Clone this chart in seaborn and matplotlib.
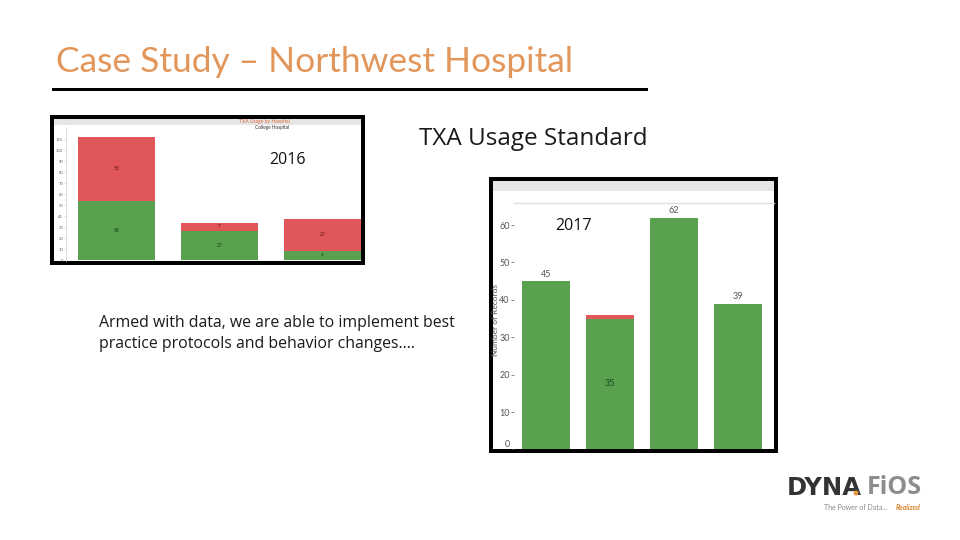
import matplotlib
matplotlib.use("Agg")
import seaborn as sns
from matplotlib import pyplot as plt
from matplotlib.patches import Rectangle, Ellipse

# values
cats_2016 = ["A", "B", "C"]
green_2016 = [54, 27, 9]
red_2016 = [58, 7, 29]
ticks_2016 = list(range(0, 111, 10))

cats_2017 = ["A", "B", "C", "D"]
green_2017 = [45, 35, 62, 39]
red_2017 = [0, 1, 0, 0]
ticks_2017 = list(range(0, 61, 10))

RED = "#E15759"
GREEN = "#59A14F"
ORANGE = "#E3965A"
W, H = 960, 540

sns.set_theme(style="white")
plt.rcParams["font.family"] = ["Lato", "DejaVu Sans"]

fig = plt.figure(figsize=(9.6, 5.4), dpi=100, facecolor="white")


def box(x0, y0, x1, y1):
    return [x0 / W, 1 - y1 / H, (x1 - x0) / W, (y1 - y0) / H]


def rect(x0, y0, x1, y1, color, z=0):
    fig.add_artist(Rectangle((x0 / W, 1 - y1 / H), (x1 - x0) / W, (y1 - y0) / H,
                             transform=fig.transFigure, facecolor=color, edgecolor="none", zorder=z))


def label(x, y, s, **kw):
    kw.setdefault("ha", "center")
    kw.setdefault("va", "center")
    kw.setdefault("zorder", 5)
    return fig.text(x / W, 1 - y / H, s, **kw)


def stacked(ax, cats, green, red):
    total = [g + r for g, r in zip(green, red)]
    sns.barplot(x=cats, y=total, color=RED, saturation=1, width=0.75, linewidth=0, ax=ax)
    sns.barplot(x=cats, y=green, color=GREEN, saturation=1, width=0.75, linewidth=0, ax=ax)
    ax.set_xticks([])
    ax.set_xlabel("")


# header
label(56, 62, "Case Study – Northwest Hospital", ha="left", fontsize=25.5, color=ORANGE)
rect(52, 87.5, 648, 90.5, "black")
label(533.5, 139, "TXA Usage Standard", fontsize=17.5, color="#1a1a1a", family="Open Sans")

# 2016 chart
rect(50, 115, 365, 265, "black", 1)
rect(54, 119, 361, 261, "white", 1)
rect(54, 119, 361, 125, "#e6e6e6", 1)
ax1 = fig.add_axes(box(66, 127, 361, 261), zorder=2)
ax1.patch.set_alpha(0)
stacked(ax1, cats_2016, green_2016, red_2016)
ax1.set_xlim(-0.49, 2.374)
ax1.set_ylim(-0.5, 121)
ax1.set_yticks(ticks_2016)
ax1.tick_params(axis="y", labelsize=3, colors="#666666", length=1, width=0.4, pad=1, left=True)
sns.despine(ax=ax1, bottom=True, right=True, top=True)
ax1.spines["left"].set_color("#dddddd")
ax1.spines["left"].set_linewidth(0.6)
for i, (g, r) in enumerate(zip(green_2016, red_2016)):
    ax1.text(i, g / 2, str(g), ha="center", va="center", fontsize=3.5, color="#123d12")
    ax1.text(i, g + r / 2, str(r), ha="center", va="center", fontsize=3.5, color="#6b1416")
label(264, 121, "TXA Usage by Hospital", fontsize=3.6, color="#d9663a")
label(272, 128, "College Hospital", fontsize=3.4, color="#333333")
label(288, 160, "2016", fontsize=11.5, color="#111111", family="Open Sans")

# 2017 chart
rect(489, 177, 778, 453, "black", 1)
rect(493, 181, 774, 449, "white", 1)
rect(493, 181, 774, 191, "#e6e6e6", 1)
ax2 = fig.add_axes(box(514, 203, 774, 449.4), zorder=2)
ax2.patch.set_alpha(0)
stacked(ax2, cats_2017, green_2017, red_2017)
ax2.set_xlim(-0.5, 3.57)
ax2.set_ylim(0, 65.9)
ax2.set_yticks(ticks_2017)
ax2.tick_params(axis="y", labelsize=6.5, colors="#555555", length=2, width=0.5, pad=1, left=True)
ax2.get_yticklabels()[0].set_verticalalignment("bottom")
sns.despine(ax=ax2, left=True, bottom=True, right=True, top=False)
ax2.spines["top"].set_color("#dddddd")
ax2.spines["top"].set_linewidth(1)
for i, g in enumerate(green_2017):
    if red_2017[i] == 0:
        ax2.text(i, g + 0.6, str(g), ha="center", va="bottom", fontsize=6.5, color="#555555")
    else:
        ax2.text(i, g / 2, str(g), ha="center", va="center", fontsize=6.5, color="#1c4a1c")
label(495.5, 320, "Number of Records", rotation=90, fontsize=6, color="#555555")
label(574, 226, "2017", fontsize=11.5, color="#111111", family="Open Sans")

# body text
label(99, 323, "Armed with data, we are able to implement best", ha="left", fontsize=11.4, color="#1a1a1a", family="Open Sans")
label(99, 344, "practice protocols and behavior changes….", ha="left", fontsize=11.4, color="#1a1a1a", family="Open Sans")

# logo
label(787, 488, "DYNA", ha="left", fontsize=17.5, fontweight="bold", color="#333333", family="DejaVu Sans")
label(867, 488, "FiOS", ha="left", fontsize=18, fontweight="bold", color="#8d8d8d", family="Open Sans")
fig.add_artist(Ellipse((856 / W, 1 - 493 / H), 5 / W, 5 / H, transform=fig.transFigure,
                       facecolor="#E8963A", edgecolor="none", zorder=6))
label(824, 508, "The Power of Data...", ha="left", fontsize=5, color="#888888")
label(920, 508, "Realized", ha="right", fontsize=5, color="#D9822B", fontweight="bold", style="italic")

fig.savefig("out.png", dpi=100)
